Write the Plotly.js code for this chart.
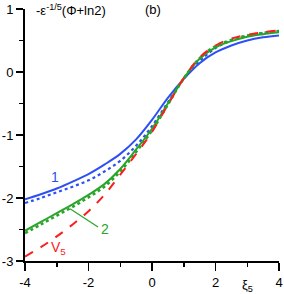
<!DOCTYPE html>
<html>
<head>
<meta charset="utf-8">
<script src="https://cdn.plot.ly/plotly-3.0.1.min.js"></script>
<style>html,body{margin:0;padding:0;background:#fff;}#chart{width:284px;height:294px;}</style>
</head>
<body>
<div id="chart"></div>
<script>
var xi = [-4, -3.5, -3, -2.5, -2, -1.5, -1, -0.5, 0, 0.5, 1, 1.5, 2, 2.5, 3, 3.5, 4];
var curve1 = [-2.02, -1.94, -1.85, -1.74, -1.62, -1.47, -1.30, -1.07, -0.76, -0.41, -0.11, 0.14, 0.31, 0.42, 0.50, 0.55, 0.58];
var curve1Approx = [-2.08, -2.00, -1.91, -1.82, -1.72, -1.58, -1.41, -1.17, -0.86, -0.48, -0.11, 0.17, 0.38, 0.50, 0.57, 0.62, 0.65];
var curve2 = [-2.52, -2.38, -2.24, -2.10, -1.95, -1.78, -1.54, -1.23, -0.90, -0.50, -0.10, 0.21, 0.39, 0.49, 0.56, 0.60, 0.63];
var curve2Approx = [-2.56, -2.42, -2.28, -2.14, -1.99, -1.82, -1.58, -1.27, -0.93, -0.52, -0.10, 0.22, 0.41, 0.51, 0.58, 0.62, 0.65];
var curveV5 = [-2.93, -2.78, -2.61, -2.42, -2.21, -1.95, -1.63, -1.30, -0.95, -0.52, -0.10, 0.23, 0.42, 0.53, 0.59, 0.63, 0.66];
var yTickVals = [-3, -2, -1, 0, 1];
var yTickText = ["-3", "-2", "-1", "0", "1"];
var xTickVals = [-4, -2, 0, 2, 4];
var xTickText = ["-4", "-2", "0", "2", "4"];

var BLUE = "rgb(45,80,245)", GREEN = "rgb(40,165,40)", RED = "rgb(250,30,30)";
var font = "Arial, 'Liberation Sans', sans-serif";

var traces = [
  {x: xi, y: curve1Approx, mode: "lines", line: {color: BLUE, width: 2.2, dash: "dot", shape: "spline"}},
  {x: xi, y: curve1, mode: "lines", line: {color: BLUE, width: 2, shape: "spline"}},
  {x: xi, y: curve2, mode: "lines", line: {color: GREEN, width: 2, shape: "spline"}},
  {x: xi, y: curve2Approx, mode: "lines", line: {color: GREEN, width: 2.5, dash: "dot", shape: "spline"}},
  {x: xi, y: curveV5, mode: "lines", line: {color: RED, width: 2, dash: "dash", shape: "spline"}}
];

var layout = {
  width: 284, height: 294,
  margin: {l: 25, r: 5, t: 9, b: 33},
  paper_bgcolor: "#fff", plot_bgcolor: "#fff",
  showlegend: false,
  font: {family: font, size: 13, color: "#000"},
  xaxis: {
    range: [-4, 4], showgrid: false, zeroline: false,
    showline: true, linecolor: "#000", linewidth: 2,
    ticks: "outside", ticklen: 8, tickwidth: 1.5, tickcolor: "#000",
    tickmode: "array", tickvals: xTickVals, ticktext: xTickText,
    minor: {tickmode: "array", tickvals: [-3, -1, 1, 3], ticks: "outside", ticklen: 4, tickwidth: 1.5, tickcolor: "#000", showgrid: false},
    tickfont: {family: font, size: 13, color: "#000"}
  },
  yaxis: {
    range: [-3, 1], showgrid: false, zeroline: false,
    showline: true, linecolor: "#000", linewidth: 2,
    ticks: "outside", ticklen: 7, tickwidth: 1.5, tickcolor: "#000",
    tickmode: "array", tickvals: yTickVals, ticktext: yTickText,
    minor: {tickmode: "array", tickvals: [-2.5, -1.5, -0.5, 0.5], ticks: "outside", ticklen: 4, tickwidth: 1.5, tickcolor: "#000", showgrid: false},
    tickfont: {family: font, size: 13, color: "#000"}
  },
  annotations: [
    {xref: "paper", yref: "paper", x: 0.035, y: 1.035, xanchor: "left", yanchor: "top", showarrow: false,
     text: "-ε<sup>-1/5</sup>(Φ+ln2)", font: {family: font, size: 13, color: "#000"}},
    {xref: "paper", yref: "paper", x: 0.465, y: 1.035, xanchor: "left", yanchor: "top", showarrow: false,
     text: "(b)", font: {family: font, size: 13, color: "#000"}},
    {xref: "x", yref: "paper", x: 3, y: -0.055, xanchor: "center", yanchor: "top", showarrow: false,
     text: "ξ<sub>5</sub>", font: {family: font, size: 13, color: "#000"}},
    {xref: "x", yref: "y", x: -3.06, y: -1.66, showarrow: false, text: "1", font: {family: font, size: 14, color: BLUE}},
    {xref: "x", yref: "y", x: -1.48, y: -2.49, showarrow: false, text: "2", font: {family: font, size: 14, color: GREEN}},
    {xref: "x", yref: "y", x: -2.93, y: -2.79, showarrow: false, text: "V<sub>5</sub>", font: {family: font, size: 14, color: RED}}
  ],
  shapes: [
    {type: "line", xref: "x", yref: "y", x0: -2.58, y0: -2.17, x1: -1.70, y1: -2.46, line: {color: GREEN, width: 1.2}}
  ]
};

Plotly.newPlot("chart", traces, layout, {staticPlot: true, displayModeBar: false});
</script>
</body>
</html>
